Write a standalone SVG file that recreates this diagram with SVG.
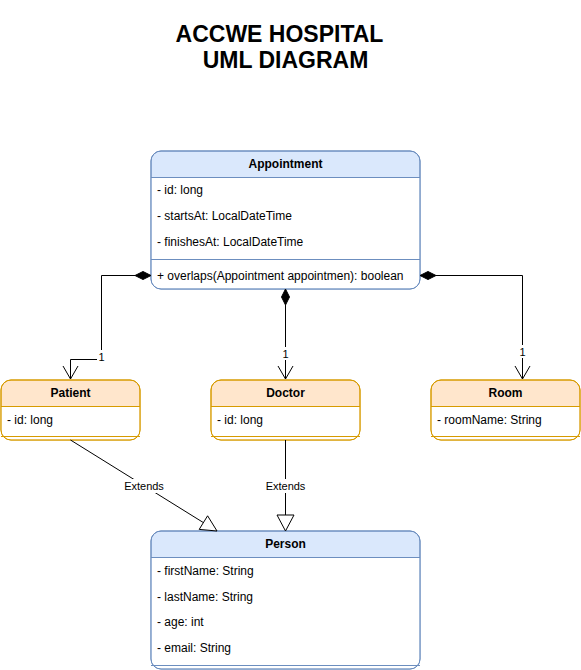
<svg xmlns="http://www.w3.org/2000/svg" width="581" height="670" viewBox="0 0 581 670">
<style>
text{font-family:"Liberation Sans",Arial,sans-serif;font-size:12px;fill:#000}
.title{font-size:23px;font-weight:bold;text-anchor:middle}
.hdr{font-weight:bold;text-anchor:middle}
.lbl{font-size:11px;text-anchor:middle}
.blue{fill:#dae8fc;stroke:#6c8ebf}
.orange{fill:#ffe6cc;stroke:#d79b00}
.body{fill:#fff;stroke:none}
.bl{stroke:#6c8ebf;fill:none}
.ol{stroke:#d79b00;fill:none}
.edge{stroke:#000;fill:none;stroke-width:1}
</style>
<rect width="581" height="670" fill="#fff"/>
<g id="title">
<text class="title" x="279.5" y="41.5">ACCWE HOSPITAL</text>
<text class="title" x="285.5" y="67.5">UML DIAGRAM</text>
</g>
<g id="appointment">
<rect class="blue" x="151" y="151" width="269" height="138" rx="10"/>
<path class="body" d="M151.5,177.5H419.5V279A9.5,9.5 0 0 1 410,288.5H161A9.5,9.5 0 0 1 151.5,279Z"/>
<path class="bl" d="M151,177.5H420M151,259.5H420"/>
<rect class="bl" x="151" y="151" width="269" height="138" rx="10" fill="none"/>
<text class="hdr" x="285.5" y="168">Appointment</text>
<text x="157" y="194">- id: long</text>
<text x="157" y="220">- startsAt: LocalDateTime</text>
<text x="157" y="246">- finishesAt: LocalDateTime</text>
<text x="157" y="280">+ overlaps(Appointment appointmen): boolean</text>
</g>
<g id="patient">
<rect class="orange" x="1" y="380" width="139" height="60" rx="10"/>
<path class="body" d="M1.5,406.5H139.5V430A9.5,9.5 0 0 1 130,439.5H11A9.5,9.5 0 0 1 1.5,430Z"/>
<path class="ol" d="M1,406.5H140M1,436.5H140"/>
<rect class="ol" x="1" y="380" width="139" height="60" rx="10"/>
<text class="hdr" x="70.5" y="397">Patient</text>
<text x="7" y="424">- id: long</text>
</g>
<g id="doctor">
<rect class="orange" x="211" y="380" width="149" height="60" rx="10"/>
<path class="body" d="M211.5,406.5H359.5V430A9.5,9.5 0 0 1 350,439.5H221A9.5,9.5 0 0 1 211.5,430Z"/>
<path class="ol" d="M211,406.5H360M211,436.5H360"/>
<rect class="ol" x="211" y="380" width="149" height="60" rx="10"/>
<text class="hdr" x="285.5" y="397">Doctor</text>
<text x="217" y="424">- id: long</text>
</g>
<g id="room">
<rect class="orange" x="431" y="380" width="149" height="60" rx="10"/>
<path class="body" d="M431.5,406.5H579.5V430A9.5,9.5 0 0 1 570,439.5H441A9.5,9.5 0 0 1 431.5,430Z"/>
<path class="ol" d="M431,406.5H580M431,436.5H580"/>
<rect class="ol" x="431" y="380" width="149" height="60" rx="10"/>
<text class="hdr" x="505.5" y="397">Room</text>
<text x="437" y="424">- roomName: String</text>
</g>
<g id="person">
<rect class="blue" x="151" y="531" width="269" height="138" rx="10"/>
<path class="body" d="M151.5,557.5H419.5V659A9.5,9.5 0 0 1 410,668.5H161A9.5,9.5 0 0 1 151.5,659Z"/>
<path class="bl" d="M151,557.5H420M151,665.5H420"/>
<rect class="bl" x="151" y="531" width="269" height="138" rx="10"/>
<text class="hdr" x="285.5" y="548">Person</text>
<text x="157" y="575">- firstName: String</text>
<text x="157" y="601">- lastName: String</text>
<text x="157" y="626">- age: int</text>
<text x="157" y="652">- email: String</text>
</g>
<g id="connectors">
<path class="edge" d="M135,275.5H101.5V359.5H70.5V379"/>
<polygon points="151,275.5 143,271.5 135,275.5 143,279.5" fill="#000" stroke="#000"/>
<path class="edge" d="M63,366L70.5,379L78,366"/>
<rect x="97" y="350" width="9" height="13" fill="#fff"/>
<text class="lbl" x="101.5" y="361">1</text>

<path class="edge" d="M285.5,305V379"/>
<polygon points="285.5,289 289.5,297 285.5,305 281.5,297" fill="#000" stroke="#000"/>
<path class="edge" d="M278,366L285.5,379L293,366"/>
<rect x="281" y="347" width="9" height="13" fill="#fff"/>
<text class="lbl" x="285.5" y="358">1</text>

<path class="edge" d="M436,275.5H522.5V379"/>
<polygon points="420,275.5 428,271.5 436,275.5 428,279.5" fill="#000" stroke="#000"/>
<path class="edge" d="M515,366L522.5,379L530,366"/>
<rect x="518" y="345" width="9" height="13" fill="#fff"/>
<text class="lbl" x="522.5" y="356">1</text>

<path class="edge" d="M70.5,440L203.4,522.6"/>
<polygon points="217,531 199.2,529.4 207.6,515.8" fill="#fff" stroke="#000"/>
<rect x="124" y="479" width="40" height="14" fill="#fff"/>
<text class="lbl" x="144" y="490">Extends</text>

<path class="edge" d="M285.5,440V515"/>
<polygon points="285.5,531 277,515 294,515" fill="#fff" stroke="#000"/>
<rect x="265" y="479" width="41" height="14" fill="#fff"/>
<text class="lbl" x="285.5" y="490">Extends</text>
</g>
</svg>
